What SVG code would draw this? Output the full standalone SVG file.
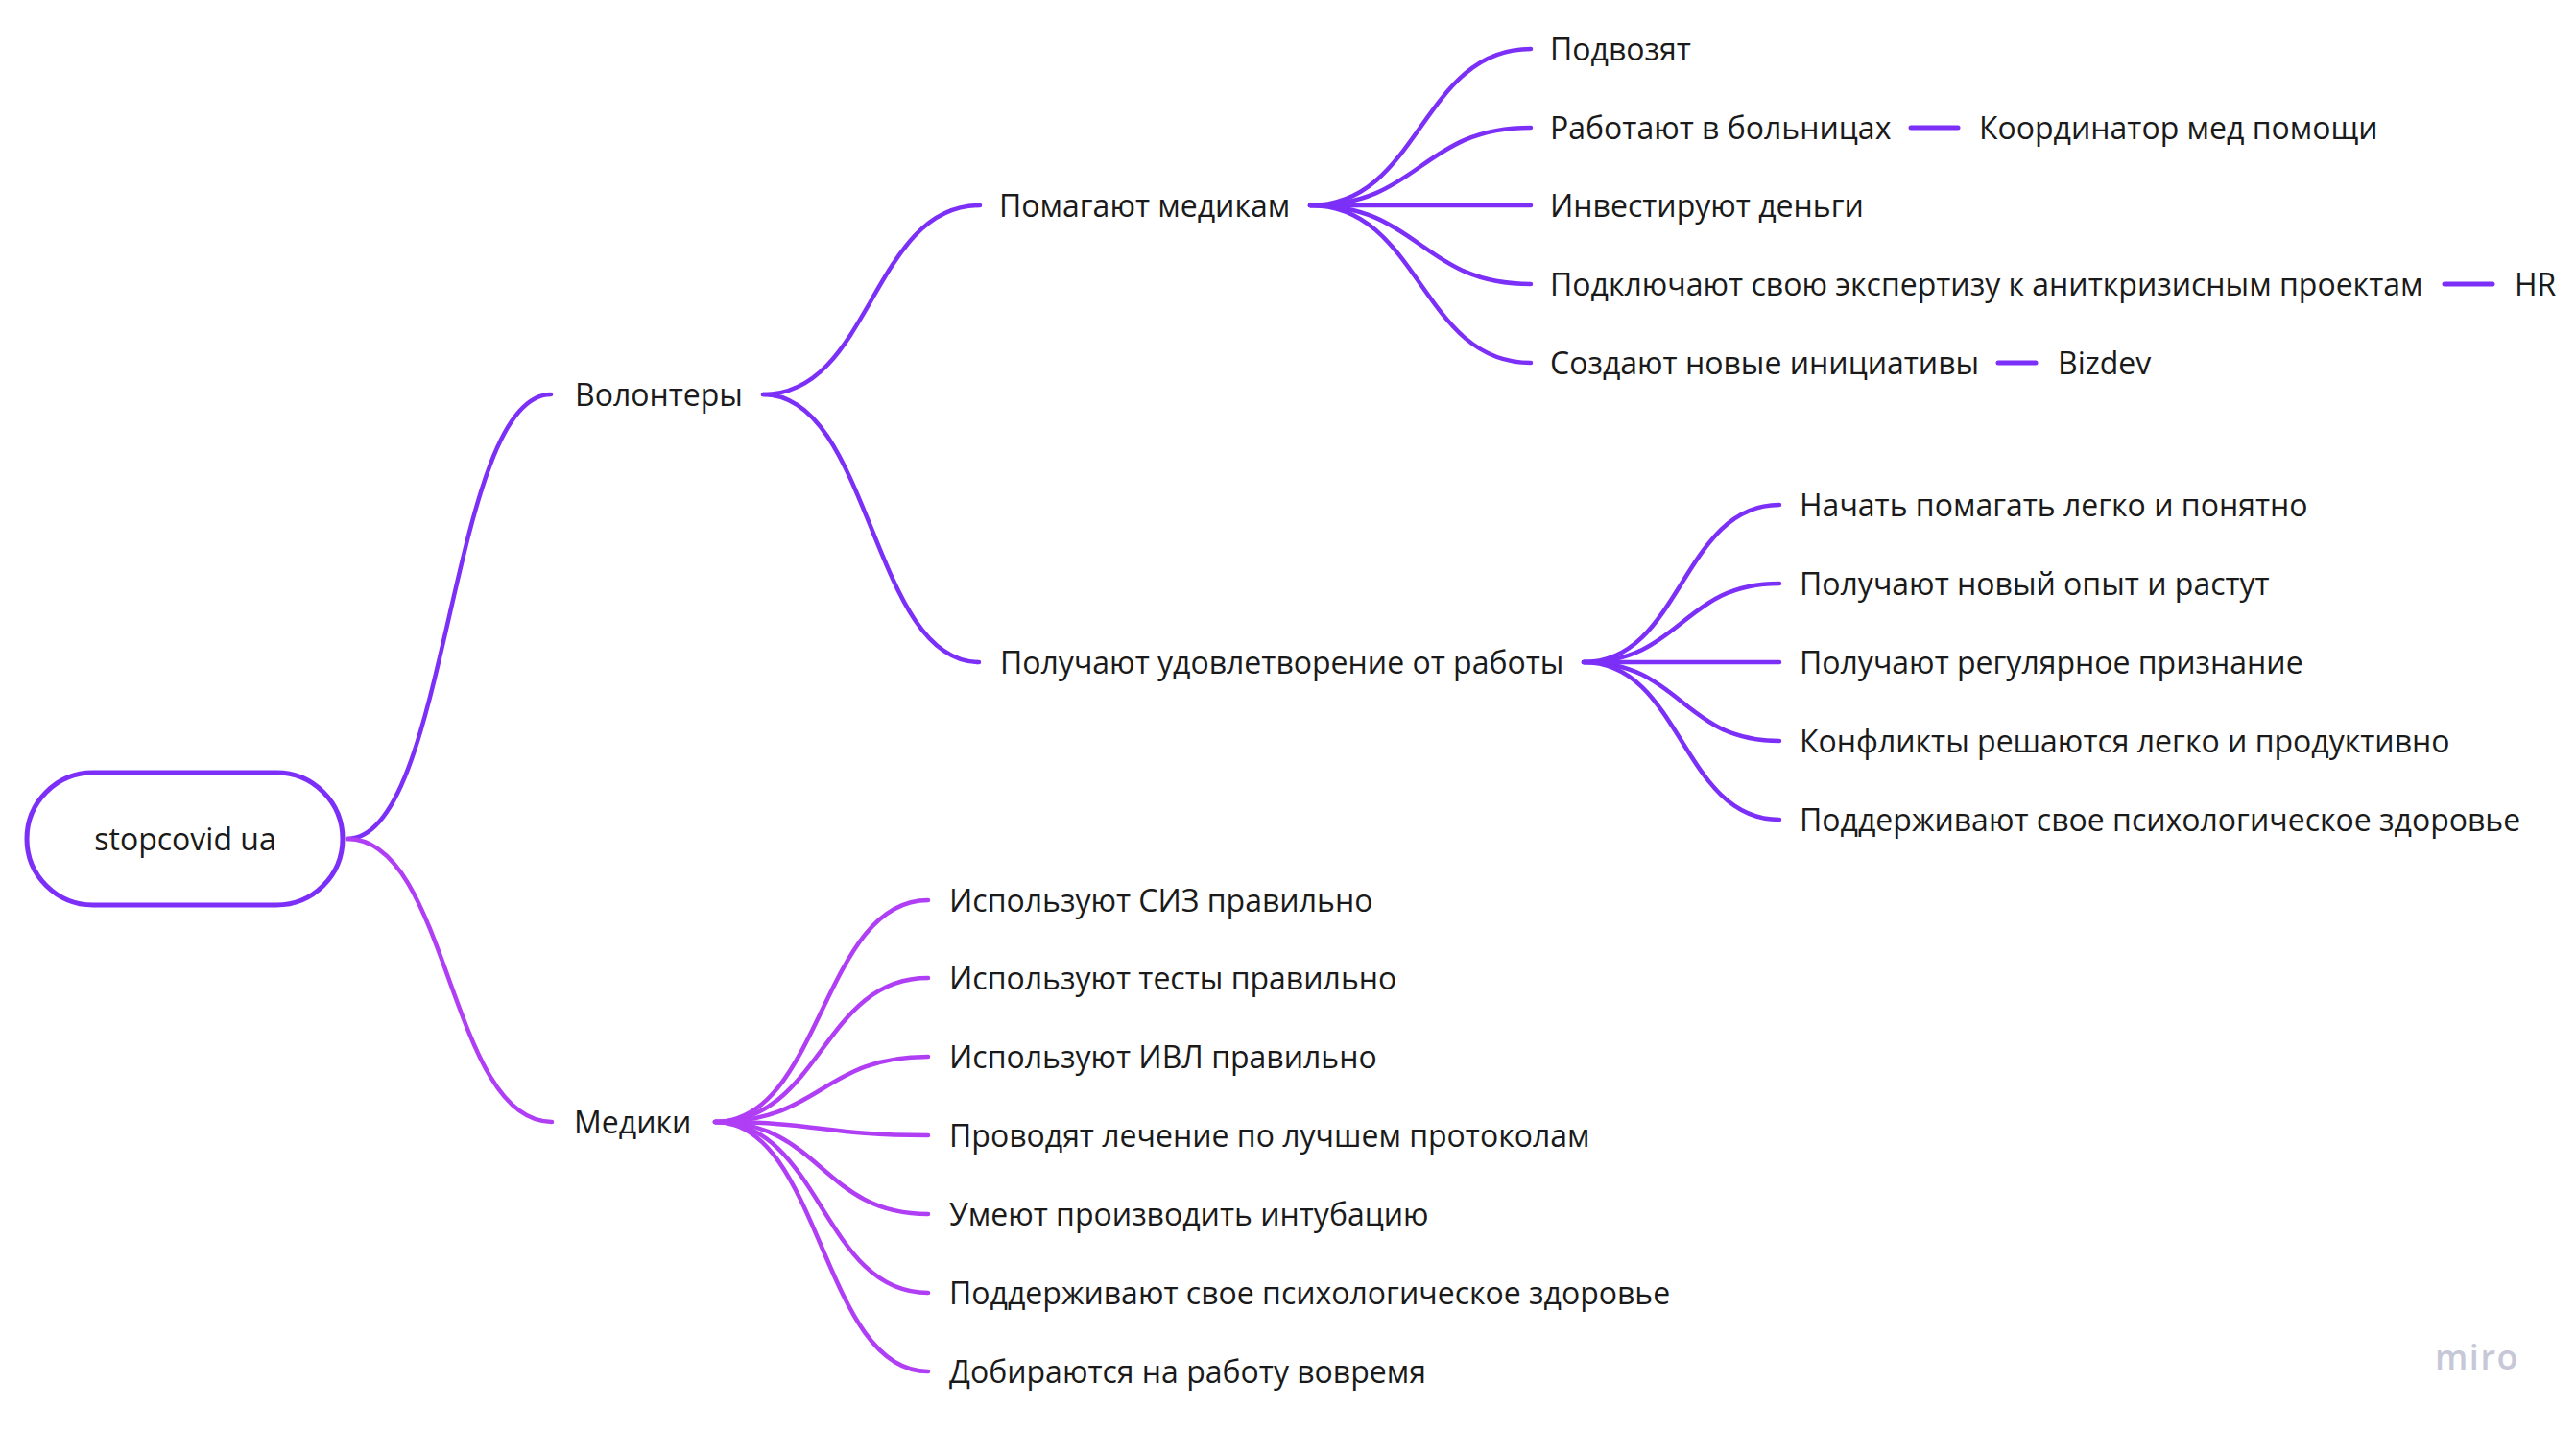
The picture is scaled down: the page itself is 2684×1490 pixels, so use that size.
<svg xmlns="http://www.w3.org/2000/svg" width="2684" height="1490" viewBox="0 0 2684 1490">
<style>
.t{font-family:"Open Sans","Noto Sans","DejaVu Sans",sans-serif;font-size:32px;fill:#1a1a1a}
.c{fill:none;stroke:#7b2ff7;stroke-width:4.5;stroke-linecap:round}
.m{fill:none;stroke:#b03ef5;stroke-width:4.5;stroke-linecap:round}
.d{fill:none;stroke:#7b2ff7;stroke-width:5;stroke-linecap:round}
.logo{font-family:"Open Sans","Noto Sans",sans-serif;font-size:36px;font-weight:600;fill:#c6c8d8;letter-spacing:1.5px}
</style>
<rect width="2684" height="1490" fill="#ffffff"/>
<g id="connectors">
<path class="c" d="M362 874 C468 874,468 411,574 411"/>
<path class="m" d="M362 874 C468 874,468 1169,575 1169"/>
<path class="c" d="M795 411 C908 411,908 214,1021 214"/>
<path class="c" d="M795 411 C908 411,908 690,1020 690"/>
<path class="c" d="M1365 214 C1480 214,1480 51,1595 51"/>
<path class="c" d="M1365 214 C1480 214,1480 133,1595 133"/>
<path class="c" d="M1365 214 L1595 214"/>
<path class="c" d="M1365 214 C1480 214,1480 296,1595 296"/>
<path class="c" d="M1365 214 C1480 214,1480 378,1595 378"/>
<path class="c" d="M1650 690 C1752 690,1752 526,1854 526"/>
<path class="c" d="M1650 690 C1752 690,1752 608,1854 608"/>
<path class="c" d="M1650 690 L1854 690"/>
<path class="c" d="M1650 690 C1752 690,1752 772,1854 772"/>
<path class="c" d="M1650 690 C1752 690,1752 854,1854 854"/>
<path class="m" d="M745 1169 C856 1169,856 938,967 938"/>
<path class="m" d="M745 1169 C856 1169,856 1019,967 1019"/>
<path class="m" d="M745 1169 C856 1169,856 1101,967 1101"/>
<path class="m" d="M745 1169 C856 1169,856 1183,967 1183"/>
<path class="m" d="M745 1169 C856 1169,856 1265,967 1265"/>
<path class="m" d="M745 1169 C856 1169,856 1347,967 1347"/>
<path class="m" d="M745 1169 C856 1169,856 1429,967 1429"/>
<path class="d" d="M1991 133 L2040 133"/>
<path class="d" d="M2547 296 L2597 296"/>
<path class="d" d="M2082 378 L2121 378"/>
</g>
<g id="root">
<rect x="28" y="805" width="329" height="138" rx="69" fill="#ffffff" stroke="#7b2ff7" stroke-width="5"/>
<text class="t" x="193" y="886" text-anchor="middle">stopcovid ua</text>
</g>
<g id="n-volontery"><text class="t" x="599" y="423">Волонтеры</text></g>
<g id="n-mediki"><text class="t" x="598" y="1181">Медики</text></g>
<g id="n-pomogayut"><text class="t" x="1041" y="226">Помагают медикам</text></g>
<g id="n-poluchayut"><text class="t" x="1042" y="702">Получают удовлетворение от работы</text></g>
<g id="n-podvozyat"><text class="t" x="1615" y="63">Подвозят</text></g>
<g id="n-rabotayut"><text class="t" x="1615" y="145">Работают в больницах</text></g>
<g id="n-koord"><text class="t" x="2062" y="145">Координатор мед помощи</text></g>
<g id="n-invest"><text class="t" x="1615" y="226">Инвестируют деньги</text></g>
<g id="n-podkl"><text class="t" x="1615" y="308">Подключают свою экспертизу к аниткризисным проектам</text></g>
<g id="n-hr"><text class="t" x="2620" y="308">HR</text></g>
<g id="n-sozdayut"><text class="t" x="1615" y="390">Создают новые инициативы</text></g>
<g id="n-bizdev"><text class="t" x="2144" y="390">Bizdev</text></g>
<g id="n-nachat"><text class="t" x="1875" y="538">Начать помагать легко и понятно</text></g>
<g id="n-opyt"><text class="t" x="1875" y="620">Получают новый опыт и растут</text></g>
<g id="n-priznanie"><text class="t" x="1875" y="702">Получают регулярное признание</text></g>
<g id="n-konflikty"><text class="t" x="1875" y="784">Конфликты решаются легко и продуктивно</text></g>
<g id="n-psih1"><text class="t" x="1875" y="866">Поддерживают свое психологическое здоровье</text></g>
<g id="n-siz"><text class="t" x="989" y="950">Используют СИЗ правильно</text></g>
<g id="n-testy"><text class="t" x="989" y="1031">Используют тесты правильно</text></g>
<g id="n-ivl"><text class="t" x="989" y="1113">Используют ИВЛ правильно</text></g>
<g id="n-lechenie"><text class="t" x="989" y="1195">Проводят лечение по лучшем протоколам</text></g>
<g id="n-intub"><text class="t" x="989" y="1277">Умеют производить интубацию</text></g>
<g id="n-psih2"><text class="t" x="989" y="1359">Поддерживают свое психологическое здоровье</text></g>
<g id="n-dobir"><text class="t" x="989" y="1441">Добираются на работу вовремя</text></g>
<text class="logo" x="2537" y="1427">miro</text>
</svg>
